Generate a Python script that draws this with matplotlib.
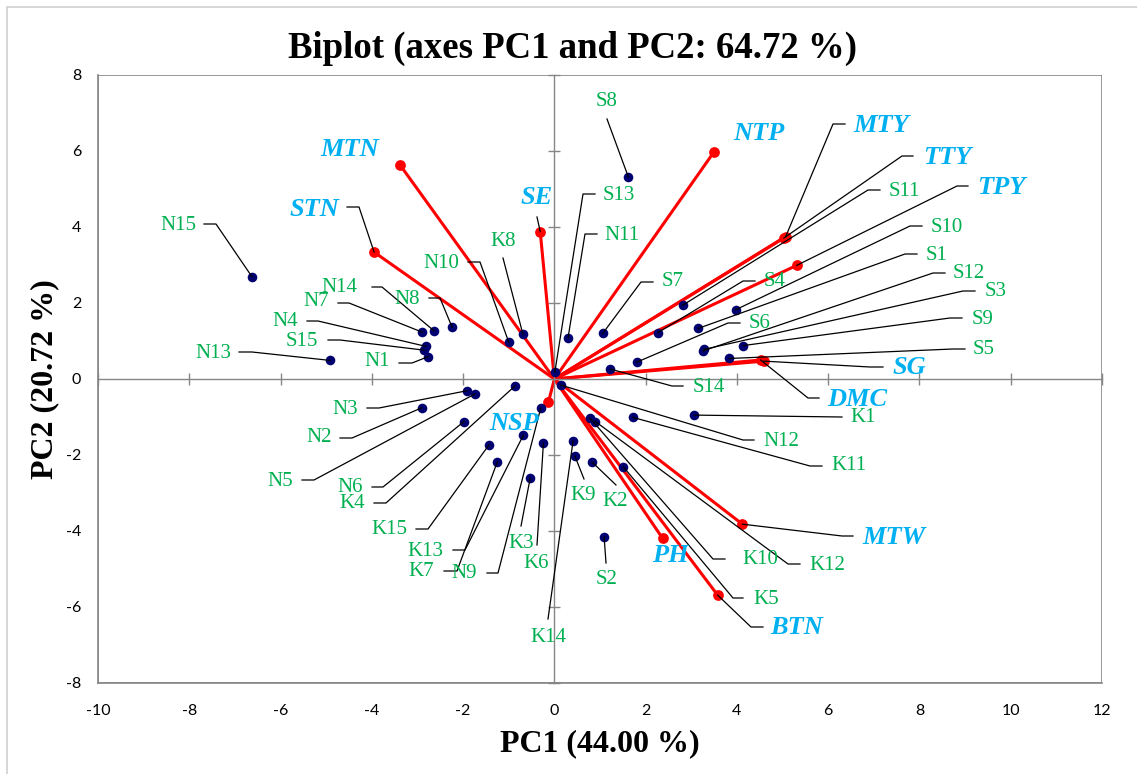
import matplotlib
matplotlib.use("Agg")
import matplotlib.pyplot as plt
import matplotlib.transforms as mtransforms
from matplotlib.lines import Line2D
from matplotlib.patches import Rectangle

plt.rcParams["axes.unicode_minus"] = False

# observations (PC1, PC2 scores)
obs_names = ["N1", "N2", "N3", "N4", "N5", "N6", "N7", "N8", "N9", "N10",
             "N11", "N12", "N13", "N14", "N15",
             "S1", "S2", "S3", "S4", "S5", "S6", "S7", "S8", "S9", "S10",
             "S11", "S12", "S13", "S14", "S15",
             "K1", "K2", "K3", "K4", "K5", "K6", "K7", "K8", "K9", "K10",
             "K11", "K12", "K13", "K14", "K15"]
obs_pc1 = [-2.76, -2.91, -1.92, -2.82, -1.75, -1.98, -2.89, -2.24, -0.30, -1.00,
           0.30, 0.14, -4.92, -2.64, -6.62,
           3.15, 1.09, 3.28, 2.27, 3.83, 1.80, 1.06, 1.62, 4.14, 3.97,
           2.81, 3.26, 0.01, 1.23, -2.86,
           3.07, 0.83, -0.53, -0.86, 1.51, -0.24, -1.25, -0.69, 0.45, 0.78,
           1.72, 0.90, -0.68, 0.41, -1.43]
obs_pc2 = [0.59, -0.76, -0.31, 0.86, -0.40, -1.12, 1.23, 1.36, -0.77, 0.97,
           1.09, -0.16, 0.49, 1.27, 2.68,
           1.33, -4.15, 0.78, 1.22, 0.54, 0.44, 1.20, 5.32, 0.88, 1.82,
           1.94, 0.74, 0.18, 0.26, 0.76,
           -0.95, -2.19, -2.61, -0.18, -2.31, -1.69, -2.18, 1.18, -2.03, -1.03,
           -1.01, -1.12, -1.48, -1.63, -1.73]

# variables (loadings)
var_names = ["MTN", "STN", "SE", "NTP", "MTY", "TTY", "TPY", "SG", "DMC",
             "NSP", "MTW", "PH", "BTN"]
var_pc1 = [-3.38, -3.95, -0.31, 3.50, 5.07, 5.03, 5.31, 4.59, 4.52,
           -0.13, 4.12, 2.37, 3.58]
var_pc2 = [5.63, 3.34, 3.88, 5.98, 3.75, 3.71, 2.99, 0.47, 0.50,
           -0.61, -3.82, -4.19, -5.69]

xticks = list(range(-10, 13, 2))
yticks = list(range(-8, 9, 2))

# label placement in figure pixels (from top-left): text x, text y, alignment,
# leader path from the text towards its point
obs_layout = {
    "N15": (196, 225, "right", [(204, 224), (216, 224)]),
    "N13": (231, 353, "right", [(239, 352), (252, 352)]),
    "N7": (329, 302, "right", [(338, 303), (349, 303)]),
    "N14": (357, 288, "right", [(372, 287), (382, 287)]),
    "N8": (420, 299, "right", [(429, 298), (440, 298)]),
    "N4": (298, 322, "right", [(307, 321), (318, 321)]),
    "S15": (318, 341, "right", [(328, 340), (340, 340)]),
    "N1": (390, 361, "right", [(399, 363), (412, 363)]),
    "N10": (459, 263, "right", [(468, 262), (480, 262)]),
    "K8": (503, 242, "center", [(503, 258)]),
    "S13": (603, 195, "left", [(595, 194), (583, 194)]),
    "N11": (604, 236, "left", [(597, 234), (585, 234)]),
    "S8": (607, 102, "center", [(607, 119)]),
    "S7": (662, 282, "left", [(653, 282), (641, 282)]),
    "S11": (889, 191, "left", [(880, 190), (868, 190)]),
    "S4": (764, 282, "left", [(755, 281), (743, 281)]),
    "S6": (749, 324, "left", [(740, 323), (728, 323)]),
    "S10": (931, 227, "left", [(922, 226), (910, 226)]),
    "S1": (926, 255, "left", [(917, 254), (905, 254)]),
    "S12": (953, 273, "left", [(945, 273), (933, 273)]),
    "S3": (985, 292, "left", [(975, 291), (963, 291)]),
    "S9": (972, 319, "left", [(962, 318), (950, 318)]),
    "S5": (973, 350, "left", [(965, 349), (953, 349)]),
    "S14": (693, 387, "left", [(683, 386), (672, 386)]),
    "N12": (763, 441, "left", [(754, 440), (743, 440)]),
    "K1": (850, 418, "left", [(842, 417)]),
    "K11": (831, 466, "left", [(822, 466), (810, 466)]),
    "K10": (742, 560, "left", [(725, 559), (713, 559)]),
    "K12": (809, 565, "left", [(800, 564), (788, 564)]),
    "K5": (753, 599, "left", [(743, 598), (733, 598)]),
    "K9": (583, 496, "center", [(584, 479)]),
    "K2": (615, 502, "center", [(616, 485)]),
    "S2": (607, 580, "center", [(606, 563)]),
    "K14": (548, 637, "center", [(548, 619)]),
    "K3": (521, 543, "center", [(521, 526)]),
    "K6": (536, 563, "center", [(537, 545)]),
    "N3": (358, 409, "right", [(367, 408), (379, 408)]),
    "N2": (332, 438, "right", [(340, 438), (352, 438)]),
    "N5": (293, 481, "right", [(302, 480), (314, 480)]),
    "N6": (363, 487, "right", [(372, 487), (383, 487)]),
    "K4": (365, 504, "right", [(374, 503), (386, 503)]),
    "K15": (407, 529, "right", [(416, 529), (428, 529)]),
    "K13": (443, 551, "right", [(453, 550), (465, 550)]),
    "K7": (434, 572, "right", [(444, 571), (457, 571)]),
    "N9": (477, 574, "right", [(487, 573), (498, 573)]),
}
var_layout = {
    "MTN": (350, 150, "center", []),
    "STN": (339, 210, "right", [(347, 207), (359, 207)]),
    "SE": (537, 198, "center", [(537, 217)]),
    "NTP": (759, 134, "center", []),
    "MTY": (853, 126, "left", [(845, 124), (833, 124)]),
    "TTY": (923, 157, "left", [(913, 156), (902, 156)]),
    "TPY": (977, 187, "left", [(968, 186), (957, 186)]),
    "SG": (893, 368, "left", [(883, 367), (870, 367)]),
    "DMC": (827, 399, "left", [(819, 398), (808, 398)]),
    "MTW": (862, 537, "left", [(853, 536), (842, 536)]),
    "PH": (670, 556, "center", []),
    "BTN": (770, 628, "left", [(763, 627), (751, 627)]),
    "NSP": (514, 423, "center", []),
}

W, H = 1137, 774
fig = plt.figure(figsize=(W / 100, H / 100), dpi=100)
ax = fig.add_axes([98 / W, 1 - 683 / H, 1004 / W, 608 / H])
ax.set_xlim(-10, 12)
ax.set_ylim(-8, 8)

grey = "#868686"
# outer box: bottom/left spines + drawn top/right edges
for s in ["bottom", "left"]:
    ax.spines[s].set_color(grey)
    ax.spines[s].set_linewidth(1.2)
ax.add_patch(Rectangle((0, 0), 1, 1, transform=ax.transAxes, fill=False,
                       edgecolor=grey, linewidth=1.2, zorder=0.5))
# top/right spines become the zero axes with cross ticks
ax.spines["top"].set_position(("data", 0))
ax.spines["right"].set_position(("data", 0))
ax.spines["top"].set_color(grey)
ax.spines["right"].set_color(grey)
ax.spines["top"].set_linewidth(1.0)
ax.spines["right"].set_linewidth(1.0)
ax.set_xticks(xticks)
ax.set_yticks(yticks)
ax.xaxis.set_ticks_position("both")
ax.yaxis.set_ticks_position("both")
ax.tick_params(axis="x", bottom=False, top=True, labelbottom=True, labeltop=False,
               direction="inout", length=8, width=1, color=grey, pad=11,
               labelsize=11.5)
ax.tick_params(axis="y", left=False, right=True, labelleft=True, labelright=False,
               direction="inout", length=8, width=1, color=grey, pad=8,
               labelsize=11.5)
for lab in ax.get_xticklabels() + ax.get_yticklabels():
    lab.set_fontfamily("Lato")

ax.set_xlabel("PC1 (44.00 %)", fontsize=23, fontweight="bold",
              family="Liberation Serif", labelpad=8)
ax.set_ylabel("PC2 (20.72 %)", fontsize=23, fontweight="bold",
              family="Liberation Serif", labelpad=5)
fig.text(573 / W, 1 - 48 / H, "Biplot (axes PC1 and PC2: 64.72 %)", ha="center",
         va="center", fontsize=26.5, fontweight="bold", family="Liberation Serif")

# chart area border
fig.patches.append(Rectangle((7, -20), 1200, 767 + 20, transform=None, fill=False,
                             edgecolor="#d0d0d0", linewidth=1.2))

# variable vectors
for x, y in zip(var_pc1, var_pc2):
    ax.plot([0, x], [0, y], color="red", lw=2.2, zorder=2, solid_capstyle="round")
ax.scatter(var_pc1, var_pc2, s=60, color="red", zorder=3, linewidths=0)
ax.scatter(obs_pc1, obs_pc2, s=48, color="#000070", zorder=4, linewidths=0)

# pixel layout (origin top-left) -> display
px = mtransforms.Affine2D().scale(1, -1).translate(0, H)
fig.canvas.draw()


def to_px(x, y):
    dx, dy = ax.transData.transform((x, y))
    return dx, H - dy


def place(names, xs, ys, layout, **style):
    for name, x, y in zip(names, xs, ys):
        tx, ty, ha, path = layout[name]
        if path:
            pts = path + [to_px(x, y)]
            fig.lines.append(Line2D([p[0] for p in pts], [p[1] for p in pts],
                                    transform=px, color="black", lw=0.9, zorder=5))
        fig.text(tx, ty, name, transform=px, ha=ha, va="center", zorder=6, **style)


place(obs_names, obs_pc1, obs_pc2, obs_layout, color="#00B050", fontsize=15,
      family="Liberation Serif")
place(var_names, var_pc1, var_pc2, var_layout, color="#00B0F0", fontsize=19,
      family="Liberation Serif", fontweight="bold", fontstyle="italic")

fig.savefig("out.png", dpi=100)
